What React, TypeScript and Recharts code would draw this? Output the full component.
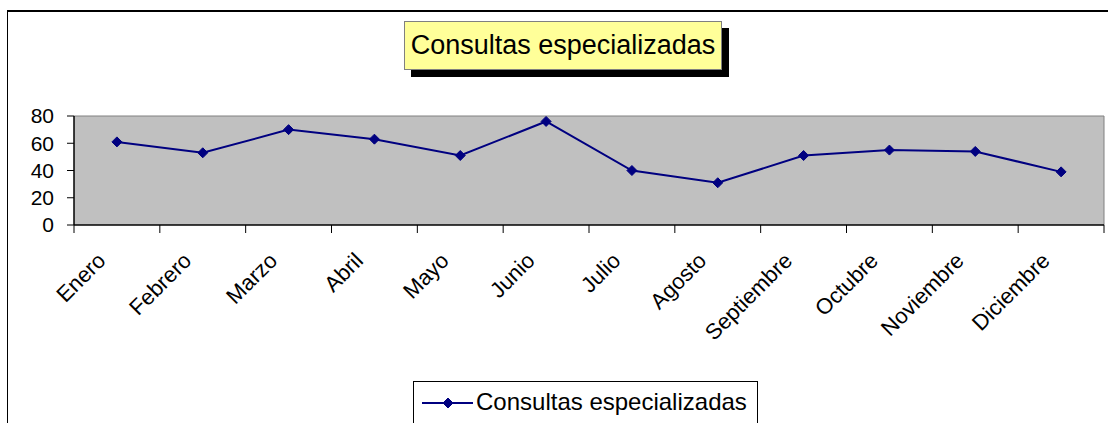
import React from 'react';
import { LineChart, Line, XAxis, YAxis, ReferenceArea, ReferenceLine, Legend } from 'recharts';

const months = [
  'Enero', 'Febrero', 'Marzo', 'Abril', 'Mayo', 'Junio',
  'Julio', 'Agosto', 'Septiembre', 'Octubre', 'Noviembre', 'Diciembre',
];
const consultas = [61, 53, 70, 63, 51, 76, 40, 31, 51, 55, 54, 39];
const yTicks = [0, 20, 40, 60, 80];
const xBounds = [0, 1, 2, 3, 4, 5, 6, 7, 8, 9, 10, 11, 12];

const seriesName = 'Consultas especializadas';
const titleText = 'Consultas especializadas';

const W = 1108;
const H = 423;
const PLOT_LEFT = 74;
const PLOT_RIGHT = 1104;
const BAND = (PLOT_RIGHT - PLOT_LEFT) / months.length;
const FONT = '"Liberation Sans", Arial, sans-serif';
const NAVY = '#000080';

// points sit in the middle of each category slot, ticks on the slot edges
const data = consultas.map((v, i) => ({ x: i + 0.5, v }));

const Diamond = (props: any) => {
  const { cx, cy, r = 5 } = props;
  if (cx == null || cy == null) return null;
  return (
    <polygon
      points={`${cx},${cy - r} ${cx + r},${cy} ${cx},${cy + r} ${cx - r},${cy}`}
      fill={NAVY}
      stroke={NAVY}
      strokeWidth={1}
    />
  );
};

const MonthTick = (props: any) => {
  const { x, y, payload } = props;
  const i = payload.value;
  if (i >= months.length) return null;
  const ax = x + BAND / 2 - 10;
  const ay = y + 27;
  return (
    <text
      x={ax}
      y={ay}
      textAnchor="end"
      transform={`rotate(-45, ${ax}, ${ay})`}
      fontFamily={FONT}
      fontSize={22}
      fill="#000"
    >
      {months[i]}
    </text>
  );
};

const LegendBox = () => (
  <div
    style={{
      width: 345,
      height: 50,
      border: '1px solid #000',
      background: '#fff',
      boxSizing: 'border-box',
      display: 'flex',
      alignItems: 'flex-start',
      fontFamily: FONT,
      fontSize: 24,
      color: '#000',
    }}
  >
    <svg width={62} height={42} style={{ flex: 'none' }}>
      <line x1={8} y1={21} x2={59} y2={21} stroke={NAVY} strokeWidth={2} />
      <Diamond cx={34} cy={21} r={5} />
    </svg>
    <span style={{ lineHeight: '40px', whiteSpace: 'nowrap' }}>{seriesName}</span>
  </div>
);

export default function App() {
  return (
    <div
      style={{
        position: 'absolute',
        left: 0,
        top: 0,
        width: W,
        height: H,
        overflow: 'hidden',
        background: '#fff',
      }}
    >
      <div
        style={{
          position: 'absolute',
          left: 7,
          top: 10,
          width: 1300,
          height: 600,
          borderTop: '2px solid #000',
          borderLeft: '1px solid #000',
        }}
      />
      <LineChart
        width={W}
        height={H}
        data={data}
        margin={{ top: 116, right: W - PLOT_RIGHT, bottom: 0, left: PLOT_LEFT - 60 }}
      >
        <ReferenceArea x1={0} x2={12} y1={0} y2={80} fill="#C0C0C0" fillOpacity={1} stroke="none" />
        <ReferenceLine y={80} stroke="#808080" strokeWidth={1} />
        <ReferenceLine x={12} stroke="#808080" strokeWidth={1} />
        <XAxis
          type="number"
          dataKey="x"
          domain={[0, 12]}
          ticks={xBounds}
          interval={0}
          height={198}
          tickSize={8}
          axisLine={{ stroke: '#000', strokeWidth: 1.5 }}
          tickLine={{ stroke: '#000' }}
          tick={<MonthTick />}
          allowDataOverflow
        />
        <YAxis
          domain={[0, 80]}
          ticks={yTicks}
          interval={0}
          width={60}
          tickSize={7}
          tickMargin={13}
          axisLine={{ stroke: '#000', strokeWidth: 1.5 }}
          tickLine={{ stroke: '#000' }}
          tick={{ fill: '#000', fontSize: 21, fontFamily: FONT }}
        />
        <Legend
          layout="horizontal"
          verticalAlign="middle"
          wrapperStyle={{ position: 'absolute', left: 413, top: 381, width: 345 }}
          content={<LegendBox />}
        />
        <Line
          type="linear"
          dataKey="v"
          name={seriesName}
          stroke={NAVY}
          strokeWidth={2}
          dot={<Diamond r={5} />}
          activeDot={false}
          isAnimationActive={false}
        />
      </LineChart>
      <div
        style={{
          position: 'absolute',
          left: 404,
          top: 21,
          width: 318,
          height: 49,
          boxSizing: 'border-box',
          background: '#FFFF99',
          border: '1px solid #808080',
          boxShadow: '7px 7px 0 #000',
          fontFamily: FONT,
          fontSize: 27,
          lineHeight: '47px',
          textAlign: 'center',
          color: '#000',
          whiteSpace: 'nowrap',
        }}
      >
        {titleText}
      </div>
    </div>
  );
}
